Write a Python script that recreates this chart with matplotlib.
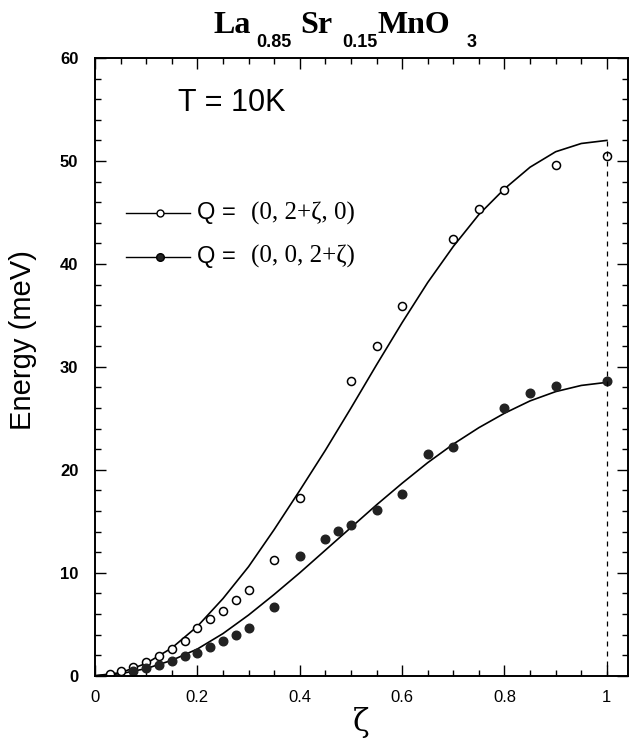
import numpy as np
import matplotlib
matplotlib.use("Agg")
import matplotlib.pyplot as plt
from matplotlib.ticker import MultipleLocator

# measured points, Q = (0, 2+zeta, 0)
open_x = [0.03, 0.05, 0.075, 0.10, 0.125, 0.15, 0.175, 0.20, 0.225, 0.25, 0.275,
          0.30, 0.35, 0.40, 0.50, 0.55, 0.60, 0.70, 0.75, 0.80, 0.90, 1.00]
open_y = [0.2, 0.5, 0.9, 1.3, 1.9, 2.6, 3.4, 4.6, 5.5, 6.3, 7.4,
          8.3, 11.2, 17.3, 28.6, 32.0, 35.9, 42.4, 45.3, 47.2, 49.6, 50.5]

# measured points, Q = (0, 0, 2+zeta)
full_x = [0.075, 0.10, 0.125, 0.15, 0.175, 0.20, 0.225, 0.25, 0.275, 0.30, 0.35,
          0.40, 0.45, 0.475, 0.50, 0.55, 0.60, 0.65, 0.70, 0.80, 0.85, 0.90, 1.00]
full_y = [0.5, 0.8, 1.0, 1.4, 1.9, 2.2, 2.8, 3.4, 4.0, 4.6, 6.7,
          11.6, 13.3, 14.1, 14.6, 16.1, 17.7, 21.5, 22.2, 26.0, 27.5, 28.1, 28.6]

# fitted curves
fit_x = [0.0, 0.05, 0.10, 0.15, 0.20, 0.25, 0.30, 0.35, 0.40, 0.45, 0.50,
         0.55, 0.60, 0.65, 0.70, 0.75, 0.80, 0.85, 0.90, 0.95, 1.00]
fit_open = [0.0, 0.3, 1.2, 2.7, 4.8, 7.5, 10.6, 14.2, 18.0, 21.9, 26.0,
            30.2, 34.3, 38.2, 41.7, 44.8, 47.3, 49.4, 50.9, 51.7, 52.0]
fit_full = [0.0, 0.2, 0.7, 1.5, 2.6, 4.1, 5.9, 7.9, 10.0, 12.2, 14.4,
            16.6, 18.7, 20.7, 22.5, 24.1, 25.5, 26.7, 27.6, 28.2, 28.5]

zone_edge = 1.0
zone_top = 52.4

fig = plt.figure(figsize=(6.31, 7.44), dpi=100)
ax = fig.add_axes([0.1506, 0.0917, 0.8444, 0.8303])

ax.plot(fit_x, fit_open, color="black", lw=1.2, solid_joinstyle="round")
ax.plot(fit_x, fit_full, color="black", lw=1.2, solid_joinstyle="round")
ax.plot(open_x, open_y, "o", ms=5.8, mfc="white", mec="black", mew=1.1)
ax.plot(full_x, full_y, "o", ms=6.2, mfc="#222222", mec="#222222")
ax.axvline(zone_edge, ymax=zone_top / 60.0, color="black", lw=0.9, ls=(0, (4, 4)))

ax.set_xlim(0, 1.041)
ax.set_ylim(0, 60)
ax.xaxis.set_major_locator(MultipleLocator(0.2))
ax.xaxis.set_minor_locator(MultipleLocator(0.05))
ax.yaxis.set_major_locator(MultipleLocator(10))
ax.yaxis.set_minor_locator(MultipleLocator(2))
ax.set_xticks([0, 0.2, 0.4, 0.6, 0.8, 1.0])
ax.set_xticklabels(["0", "0.2", "0.4", "0.6", "0.8", "1"])
ax.tick_params(which="both", direction="in", top=True, right=True, width=1.0)
ax.tick_params(which="major", length=8)
ax.tick_params(which="minor", length=4)
ax.tick_params(axis="x", labelsize=12, pad=10)
ax.tick_params(axis="y", labelsize=12, pad=12)
for lab in ax.get_yticklabels():
    lab.set_fontweight("bold")
    lab.set_family("Liberation Sans")
for lab in ax.get_xticklabels():
    lab.set_family("Liberation Sans")
for sp in ax.spines.values():
    sp.set_linewidth(1.4)

ax.set_ylabel("Energy (meV)", fontsize=21, family="Liberation Sans")
ax.yaxis.set_label_coords(-0.108, 0.543)
ax.set_xlabel("ζ", fontsize=22, family="DejaVu Serif", labelpad=2)

ax.text(0.156, 0.928, "T = 10K", transform=ax.transAxes, fontsize=22,
        family="Liberation Sans", va="center")

# hand-made legend
leg_rows = [(0.749, "white", 5.0, "(0, 2+ζ, 0)"), (0.678, "#222222", 5.5, "(0, 0, 2+ζ)")]
for ly, face, msz, txt in leg_rows:
    ax.plot([0.058, 0.178], [ly, ly], color="black", lw=1.0, transform=ax.transAxes)
    ax.plot([0.122], [ly], "o", ms=msz, mfc=face, mec="black", mew=1.0,
            transform=ax.transAxes)
    ax.text(0.191, ly, "Q =", transform=ax.transAxes, fontsize=17,
            family="Liberation Sans", va="center")
    ax.text(0.293, ly, txt, transform=ax.transAxes, fontsize=18,
            family="Liberation Serif", va="center")

# title pieces: formula with subscripts
title_parts = [("La", 213, False), ("0.85", 256, True), ("Sr", 300, False),
               ("0.15", 342, True), ("MnO", 378, False), ("3", 467, True)]
for txt, px, is_sub in title_parts:
    if is_sub:
        fig.text(px / 631, 1 - 47 / 744, txt, fontsize=13, fontweight="bold",
                 family="Liberation Sans", va="baseline")
    else:
        fig.text(px / 631, 1 - 33 / 744, txt, fontsize=23, fontweight="bold",
                 family="Liberation Serif", va="baseline")

fig.savefig("out.png", dpi=100)
